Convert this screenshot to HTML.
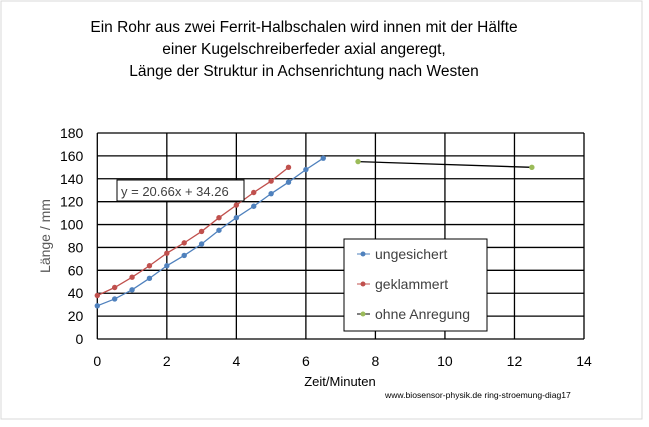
<!DOCTYPE html>
<html><head><meta charset="utf-8"><style>
body{margin:0;background:#fff;}
svg{display:block;font-family:"Liberation Sans",sans-serif;}
</style></head><body>
<svg width="649" height="427">
<rect x="1" y="1" width="641" height="418" fill="#fff" stroke="#d9d9d9"/>
<g font-size="15.5" fill="#000" text-anchor="middle">
<text x="304" y="32">Ein Rohr aus zwei Ferrit-Halbschalen wird innen mit der Hälfte</text>
<text x="304" y="54">einer Kugelschreiberfeder axial angeregt,</text>
<text x="304" y="76">Länge der Struktur in Achsenrichtung nach Westen</text>
</g>
<g id="grid"></g>
<g id="series"></g>
<rect x="117" y="180" width="127" height="21" fill="#fff" stroke="#000"/>
<text x="121" y="196" font-size="13" fill="#404040">y = 20.66x + 34.26</text>
<text x="340" y="386" font-size="13" text-anchor="middle" fill="#000">Zeit/Minuten</text>
<text transform="translate(50,236) rotate(-90)" font-size="14" text-anchor="middle" fill="#595959">Länge / mm</text>
<text x="385" y="398" font-size="8.6" fill="#000">www.biosensor-physik.de ring-stroemung-diag17</text>
<g>
<rect x="344" y="239" width="143" height="92" fill="#fff" stroke="#000"/>
<line x1="357" y1="254" x2="370" y2="254" stroke="#4f81bd"/><circle cx="363" cy="254" r="2.5" fill="#4f81bd"/>
<text x="375" y="259" font-size="14" fill="#404040">ungesichert</text>
<line x1="357" y1="284" x2="370" y2="284" stroke="#c0504d"/><circle cx="363" cy="284" r="2.5" fill="#c0504d"/>
<text x="375" y="289" font-size="14" fill="#404040">geklammert</text>
<line x1="357" y1="314" x2="370" y2="314" stroke="#000"/><circle cx="363" cy="314" r="2.5" fill="#9bbb59"/>
<text x="375" y="319" font-size="14" fill="#404040">ohne Anregung</text>
</g>
</svg>
<script>
const xTicks=[0,2,4,6,8,10,12,14];
const yTicks=[0,20,40,60,80,100,120,140,160,180];
const blueX=[0,0.5,1,1.5,2,2.5,3,3.5,4,4.5,5,5.5,6,6.5];
const blueY=[29,35,43,53,64,73,83,95,106,116,127,137,148,158];
const redX=[0,0.5,1,1.5,2,2.5,3,3.5,4,4.5,5,5.5];
const redY=[38,45,54,64,75,84,94,106,117,128,138,150];
const greenX=[7.5,12.5];
const greenY=[155,150];
const X0=97.3,X1=584,Y0=339,Y1=133;
const sx=v=>X0+(X1-X0)*v/14, sy=v=>Y0-(Y0-Y1)*v/180;
const NS="http://www.w3.org/2000/svg";
function mk(tag,at,parent){const e=document.createElementNS(NS,tag);for(const k in at)e.setAttribute(k,at[k]);parent.appendChild(e);return e;}
const grid=document.getElementById('grid');
yTicks.forEach(t=>{
 const l=mk('line',{x1:X0,x2:X1,y1:sy(t),y2:sy(t),stroke:'#000','stroke-width':1.3},grid);
 
 
 const tx=mk('text',{x:X0-14,y:sy(t)+5,'font-size':14,'text-anchor':'end',fill:'#000'},grid);
 tx.textContent=t;
 
 
});
xTicks.forEach(t=>{
 const l=mk('line',{x1:sx(t),x2:sx(t),y1:Y0,y2:Y1,stroke:'#000','stroke-width':1.3},grid);
 
 
 const tx=mk('text',{x:sx(t),y:Y0+27,'font-size':14,'text-anchor':'middle',fill:'#000'},grid);
 tx.textContent=t;
 
 
});
const ser=document.getElementById('series');
function draw(xs,ys,lineCol,dotCol,name){
 const p=mk('polyline',{points:xs.map((x,i)=>sx(x)+','+sy(ys[i])).join(' '),fill:'none',stroke:lineCol,'stroke-width':1.3},ser);
 
 
 xs.forEach((x,i)=>{
  const c=mk('circle',{cx:sx(x),cy:sy(ys[i]),r:2.7,fill:dotCol},ser);
  
  
 });
}
draw(blueX,blueY,'#4f81bd','#4f81bd','ungesichert');
draw(redX,redY,'#c0504d','#c0504d','geklammert');
draw(greenX,greenY,'#000','#9bbb59','ohne-anregung');
</script>
</body></html>
